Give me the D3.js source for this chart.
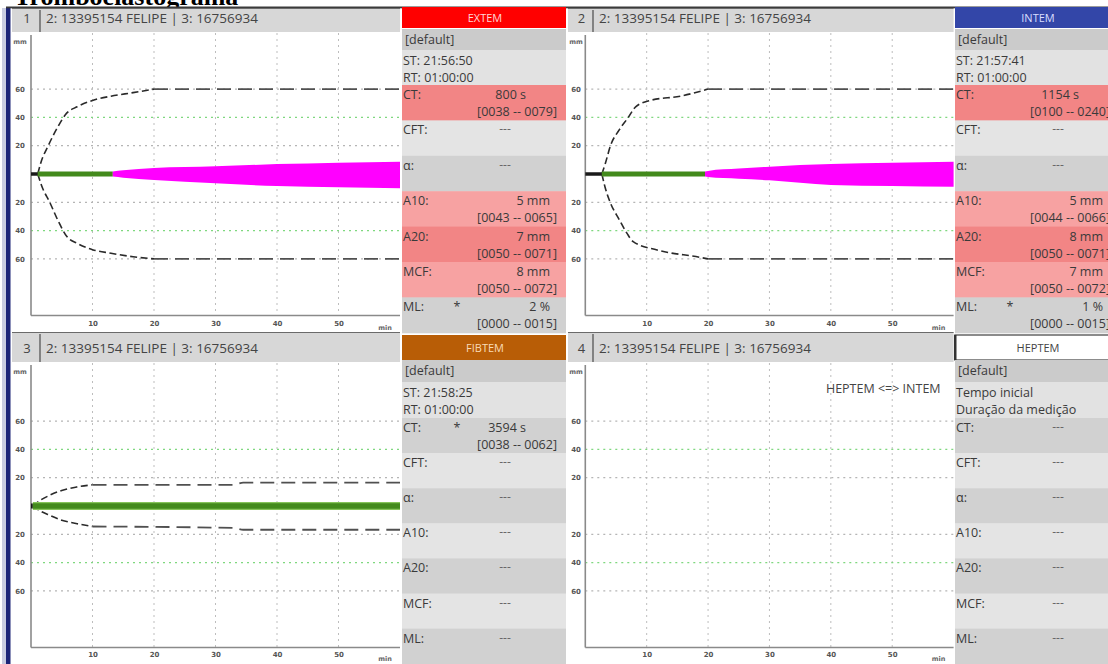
<!DOCTYPE html>
<html><head><meta charset="utf-8">
<script src="https://cdn.jsdelivr.net/npm/d3@7"></script>
<style>html,body{margin:0;padding:0;background:#fff;overflow:hidden}</style>
</head><body><svg id="c" width="1108" height="664"></svg>
<script>
// ---------------- data ----------------
const title = "Tromboelastograma";
const panelNames = ["EXTEM", "INTEM", "FIBTEM", "HEPTEM"];
const panelNumbers = ["1", "2", "3", "4"];
const patientLabel = "2: 13395154 FELIPE | 3: 16756934";
const defaultLabel = "[default]";
const startLabels = ["ST: 21:56:50", "ST: 21:57:41", "ST: 21:58:25", "Tempo inicial"];
const runLabels = ["RT: 01:00:00", "RT: 01:00:00", "RT: 01:00:00", "Duração da medição"];
const paramLabels = ["CT:", "CFT:", "α:", "A10:", "A20:", "MCF:", "ML:"];
const extemValues = ["800 s", "---", "---", "5 mm", "7 mm", "8 mm", "2 %"];
const intemValues = ["1154 s", "---", "---", "5 mm", "8 mm", "7 mm", "1 %"];
const fibtemValues = ["3594 s", "---", "---", "---", "---", "---", "---"];
const heptemValues = ["---", "---", "---", "---", "---", "---", "---"];
const extemRanges = ["[0038 -- 0079]", "", "", "[0043 -- 0065]", "[0050 -- 0071]", "[0050 -- 0072]", "[0000 -- 0015]"];
const intemRanges = ["[0100 -- 0240]", "", "", "[0044 -- 0066]", "[0050 -- 0071]", "[0050 -- 0072]", "[0000 -- 0015]"];
const fibtemRanges = ["[0038 -- 0062]", "", "", "", "", "", ""];
const heptemRanges = ["", "", "", "", "", "", ""];
const extemFlags = ["", "", "", "", "", "", "*"];
const intemFlags = ["", "", "", "", "", "", "*"];
const fibtemFlags = ["*", "", "", "", "", "", ""];
const heptemFlags = ["", "", "", "", "", "", ""];
const extemOut = [1, 0, 0, 1, 1, 1, 0];
const intemOut = [1, 0, 0, 1, 1, 1, 0];
const fibtemOut = [0, 0, 0, 0, 0, 0, 0];
const heptemOut = [0, 0, 0, 0, 0, 0, 0];
const xTicks = [10, 20, 30, 40, 50];
const xUnit = "min";
const yUnit = "mm";
const yGrid = [60, 40, 20, -20, -40, -60];
const heptemNote = "HEPTEM <=> INTEM";
// times in minutes, amplitudes in mm (positive up, negative down)
const traceStart = [1.1, 2.7, 0.3, null];
const ctMinutes = [13.3, 19.5, 60, null];
const plateauFrom = [20, 20, 10, null];
const extemRefUpper = [[1.1,0],[1.6,8],[2.8,20],[4.2,32],[5.8,43],[7.5,47.5],[10,52],[13,55],[16.6,57.5],[20,60],[60,60]];
const extemRefLower = [[1.1,0],[1.7,-8],[3.1,-20.5],[4.4,-33],[5.8,-44],[7.5,-49],[10,-53.5],[13,-56],[16.6,-58.5],[20,-60],[60,-60]];
const intemRefUpper = [[2.7,0],[3.3,8],[4.1,20],[5.5,31],[7,40],[8.2,47.5],[10.6,52],[15.5,55],[20,60],[60,60]];
const intemRefLower = [[2.7,0],[3.2,-9],[4.1,-20.5],[5.5,-32],[6.8,-42],[7.8,-47.8],[11.7,-53.7],[18.7,-58.9],[20,-60],[60,-60]];
const fibtemRefUpper = [[0.3,0],[1.5,4],[3,7.5],[5,11],[7.5,13.5],[10,15],[33,15],[34.5,16.5],[60,16.5]];
const fibtemRefLower = [[0.3,0],[1.5,-3.5],[3,-6.5],[5,-10],[7.5,-12.5],[10,-14.5],[33,-15.5],[34.5,-16.8],[60,-16.8]];
// clot firmness trace: [t, upper, lower]
const extemClot = [[13.3,1.8,-1.8],[15,2.6,-2.6],[20,4.2,-4.2],[30,5.4,-6.6],[40,7,-8.5],[50,8,-9.4],[60,8.7,-10]];
const intemClot = [[19.5,1.8,-1.8],[20,2.2,-2.2],[25,3.8,-3.4],[30,5.2,-4.5],[40,7,-7.8],[50,8,-8.5],[60,8.7,-9]];
const fibtemClot = [];
const heptemClot = [];

// ---------------- assembly ----------------
const values = [extemValues, intemValues, fibtemValues, heptemValues];
const ranges = [extemRanges, intemRanges, fibtemRanges, heptemRanges];
const flags = [extemFlags, intemFlags, fibtemFlags, heptemFlags];
const outs = [extemOut, intemOut, fibtemOut, heptemOut];
const refUp = [extemRefUpper, intemRefUpper, fibtemRefUpper, null];
const refLo = [extemRefLower, intemRefLower, fibtemRefLower, null];
const clots = [extemClot, intemClot, fibtemClot, heptemClot];

// ---------------- layout / style ----------------
const FONT = "'Open Sans', 'DejaVu Sans', sans-serif";
const cols = [
  {left: 12, num: 40, axis: 31, right: 400, info: 402},
  {left: 568, num: 593, axis: 585.3, right: 953.6, info: 955}
];
const rowsL = [
  {hTop: 8, hBot: 32, zero: 174, tickY: 330, textY: 23},
  {hTop: 332, hBot: 362, zero: 506, tickY: 661, textY: 352.5}
];
const infoRows = [
  {top: 7, hdrH: 21, defTop: 29, defH: 21, stTop: 50, stH: 35, pTop: 85, pH: 35.4},
  {top: 335, hdrH: 25, defTop: 360, defH: 22, stTop: 382, stH: 36, pTop: 418, pH: 35.1}
];
const hdrFill = ["#ff0000", "#3346a8", "#b85d06", "#ffffff"];
const hdrText = ["#ffd6d6", "#d9deff", "#f9dcb8", "#444444"];
const MMPX = 1.415;

const svg = d3.select("#c");
svg.append("rect").attr("width", 1108).attr("height", 664).attr("fill", "#ffffff");

// title (partly cut off at top, as in the original screenshot)
svg.append("text").attr("x", 14).attr("y", 4.5)
  .attr("font-family", "'Liberation Serif','Times New Roman',serif")
  .attr("font-weight", "bold").attr("font-size", 26).attr("fill", "#000")
  .text(title);

// left navy strip
svg.append("rect").attr("x", 2).attr("y", 8).attr("width", 5).attr("height", 656).attr("fill", "#c9cde0");
svg.append("rect").attr("x", 6).attr("y", 8).attr("width", 4.5).attr("height", 656).attr("fill", "#1c2577");
// top frame line
svg.append("rect").attr("x", 6).attr("y", 6.5).attr("width", 1102).attr("height", 1.8).attr("fill", "#3a3a3a");

const lineGen = (x, y) => d3.line().x(d => x(d[0])).y(d => y(d[1])).curve(d3.curveMonotoneX);

panelNames.forEach((name, i) => {
  const c = cols[i % 2], r = rowsL[Math.floor(i / 2)], ir = infoRows[Math.floor(i / 2)];
  const x = d3.scaleLinear().domain([0, 60]).range([c.axis, c.right]);
  const y = d3.scaleLinear().domain([-100, 100]).range([r.zero + 100 * MMPX, r.zero - 100 * MMPX]);
  const g = svg.append("g");
  const axisY = y(-100), plotTop = r.hBot + 1;

  // header bar
  g.append("rect").attr("x", c.left).attr("y", r.hTop).attr("width", c.right - c.left).attr("height", r.hBot - r.hTop)
    .attr("fill", "#d7d7d7");
  g.append("line").attr("x1", c.left).attr("x2", c.right).attr("y1", r.hTop + 0.5).attr("y2", r.hTop + 0.5)
    .attr("stroke", "#6a6a6a").attr("stroke-width", 1);
  g.append("line").attr("x1", c.num).attr("x2", c.num).attr("y1", r.hTop + 2).attr("y2", r.hBot)
    .attr("stroke", "#555").attr("stroke-width", 1.3);
  g.append("text").attr("x", (c.left + c.num) / 2 + 1).attr("y", r.textY).attr("text-anchor", "middle")
    .attr("font-family", FONT).attr("font-size", 13).attr("fill", "#444").text(panelNumbers[i]);
  g.append("text").attr("x", c.num + 6).attr("y", r.textY).attr("font-family", FONT).attr("font-size", 13.5)
    .attr("fill", "#444").text(patientLabel);

  // grid
  g.selectAll(".vg").data(xTicks).join("line")
    .attr("x1", d => x(d)).attr("x2", d => x(d)).attr("y1", plotTop).attr("y2", axisY)
    .attr("stroke", "#bdbdbd").attr("stroke-width", 1).attr("stroke-dasharray", "2,4");
  g.selectAll(".hg").data(yGrid).join("line")
    .attr("x1", c.axis).attr("x2", c.right).attr("y1", d => y(d)).attr("y2", d => y(d))
    .attr("stroke", d => Math.abs(d) === 40 ? "#7fd87f" : "#b5b5b5").attr("stroke-width", 1.2)
    .attr("stroke-dasharray", "2,4");

  // axes lines
  g.append("line").attr("x1", c.axis).attr("x2", c.axis).attr("y1", plotTop + 2).attr("y2", axisY)
    .attr("stroke", "#8a8a8a").attr("stroke-width", 1.6);
  g.append("line").attr("x1", c.axis).attr("x2", c.right).attr("y1", axisY).attr("y2", axisY)
    .attr("stroke", "#8a8a8a").attr("stroke-width", 1.6);

  // axis tick labels via d3 axes
  const xa = g.append("g").attr("transform", `translate(0,${r.tickY - 9})`)
    .call(d3.axisBottom(x).tickValues(xTicks).tickSize(0).tickPadding(0));
  xa.select(".domain").remove();
  xa.selectAll("text").attr("font-family", "'DejaVu Sans'").attr("font-size", 7).attr("font-weight", "bold")
    .attr("fill", "#555");
  g.append("text").attr("x", c.right - 15).attr("y", r.tickY).attr("text-anchor", "middle")
    .attr("font-family", "'DejaVu Sans'").attr("font-size", 6.5).attr("font-weight", "bold").attr("fill", "#666")
    .text(xUnit);
  const ya = g.append("g").attr("transform", `translate(${c.left + 8},0)`)
    .call(d3.axisLeft(y).tickValues(yGrid).tickFormat(d => Math.abs(d)).tickSize(0).tickPadding(0));
  ya.select(".domain").remove();
  ya.selectAll("text").attr("text-anchor", "middle").attr("font-family", "'DejaVu Sans'").attr("font-size", 7)
    .attr("font-weight", "bold").attr("fill", "#555");
  g.append("text").attr("x", c.left + 8).attr("y", plotTop + 11).attr("text-anchor", "middle")
    .attr("font-family", "'DejaVu Sans'").attr("font-size", 6.5).attr("font-weight", "bold").attr("fill", "#666")
    .text(yUnit);

  // reference envelope (dashed)
  if (refUp[i]) {
    [refUp[i], refLo[i]].forEach(pts => {
      const curve = pts.filter(p => p[0] <= plateauFrom[i]);
      const plat = pts.filter(p => p[0] >= plateauFrom[i]);
      g.append("path").attr("d", lineGen(x, y)(curve)).attr("fill", "none")
        .attr("stroke", "#2a2a2a").attr("stroke-width", 1.6).attr("stroke-dasharray", "7,3.5");
      g.append("path").attr("d", lineGen(x, y)(plat)).attr("fill", "none")
        .attr("stroke", "#505050").attr("stroke-width", 1.8).attr("stroke-dasharray", "14,7");
    });
  }

  // trace
  if (traceStart[i] !== null) {
    const thick = i === 2;
    g.append("line").attr("x1", x(0)).attr("x2", x(traceStart[i])).attr("y1", y(0)).attr("y2", y(0))
      .attr("stroke", "#1a1a1a").attr("stroke-width", thick ? 5 : 3.5);
    if (thick) {
      g.append("line").attr("x1", x(traceStart[i])).attr("x2", x(ctMinutes[i])).attr("y1", y(0)).attr("y2", y(0))
        .attr("stroke", "#86c45a").attr("stroke-width", 8);
    }
    g.append("line").attr("x1", x(traceStart[i])).attr("x2", x(ctMinutes[i])).attr("y1", y(0)).attr("y2", y(0))
      .attr("stroke", "#438a1c").attr("stroke-width", thick ? 5.5 : 5);
    if (clots[i].length) {
      const area = d3.area().x(d => x(d[0])).y0(d => y(d[2])).y1(d => y(d[1])).curve(d3.curveMonotoneX);
      g.append("path").attr("d", area(clots[i])).attr("fill", "#ff00ff");
    }
  }
  if (name === "HEPTEM") {
    g.append("text").attr("x", c.right - 13).attr("y", plotTop + 30).attr("text-anchor", "end")
      .attr("font-family", FONT).attr("font-size", 12.5).attr("fill", "#444").text(heptemNote);
  }

  // ---- info panel ----
  const L = c.info, W = 164;
  const ig = svg.append("g");
  ig.append("rect").attr("x", L).attr("y", ir.top).attr("width", W).attr("height", ir.hdrH).attr("fill", hdrFill[i])
    .attr("stroke", name === "HEPTEM" ? "#666" : "none").attr("stroke-width", 1.5);
  if (name === "HEPTEM") {
    ig.append("rect").attr("x", L - 1).attr("y", ir.top).attr("width", 2.5).attr("height", ir.hdrH).attr("fill", "#333");
  }
  ig.append("text").attr("x", L + 83).attr("y", ir.top + ir.hdrH / 2 + 4).attr("text-anchor", "middle")
    .attr("font-family", FONT).attr("font-size", 11).attr("fill", hdrText[i]).text(name);
  ig.append("rect").attr("x", L).attr("y", ir.defTop).attr("width", W).attr("height", ir.defH).attr("fill", "#cbcbcb");
  ig.append("text").attr("x", L + 3).attr("y", ir.defTop + 15).attr("font-family", FONT).attr("font-size", 12.5)
    .attr("fill", "#3a3a3a").text(defaultLabel);
  ig.append("rect").attr("x", L).attr("y", ir.stTop).attr("width", W).attr("height", ir.stH).attr("fill", "#e2e2e2");
  ig.append("text").attr("x", L + 1).attr("y", ir.stTop + 15).attr("font-family", FONT).attr("font-size", 12.5)
    .attr("fill", "#3a3a3a").text(startLabels[i]);
  ig.append("text").attr("x", L + 1).attr("y", ir.stTop + 32).attr("font-family", FONT).attr("font-size", 12.5)
    .attr("fill", "#3a3a3a").text(runLabels[i]);

  paramLabels.forEach((pl, k) => {
    const top = ir.pTop + k * ir.pH;
    const dark = k % 2 === 0;
    const fill = outs[i][k] ? (dark ? "#f28585" : "#f7a2a2") : (dark ? "#d1d1d1" : "#e4e4e4");
    ig.append("rect").attr("x", L).attr("y", top).attr("width", W).attr("height", ir.pH + 0.5).attr("fill", fill);
    ig.append("text").attr("x", L + 1).attr("y", top + 14).attr("font-family", FONT).attr("font-size", 12.5)
      .attr("fill", "#3a3a3a").text(pl);
    if (flags[i][k]) {
      ig.append("text").attr("x", L + 55).attr("y", top + 14).attr("text-anchor", "middle").attr("font-family", FONT)
        .attr("font-size", 12.5).attr("fill", "#3a3a3a").text(flags[i][k]);
    }
    const v = values[i][k];
    if (v === "---") {
      ig.append("text").attr("x", L + 103).attr("y", top + 13).attr("text-anchor", "middle").attr("font-family", FONT)
        .attr("font-size", 12).attr("fill", "#666").text(v);
    } else {
      const rx = v.endsWith(" s") ? L + 124 : L + 148;
      ig.append("text").attr("x", rx).attr("y", top + 14).attr("text-anchor", "end").attr("font-family", FONT)
        .attr("font-size", 12.5).attr("fill", "#3a3a3a").text(v);
    }
    if (ranges[i][k]) {
      ig.append("text").attr("x", L + 155).attr("y", top + 31).attr("text-anchor", "end").attr("font-family", FONT)
        .attr("font-size", 12.5).attr("fill", "#3a3a3a").text(ranges[i][k]);
    }
  });
});
</script>
</body></html>
